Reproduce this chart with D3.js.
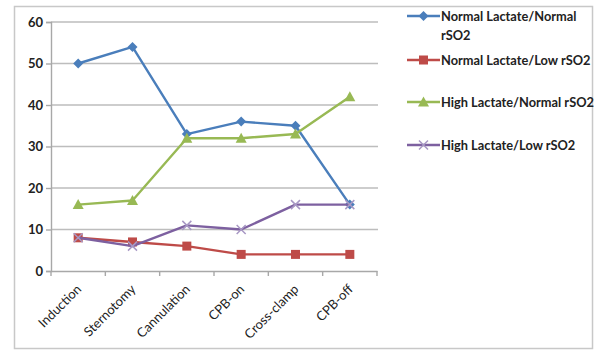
<!DOCTYPE html>
<html>
<head>
<meta charset="utf-8">
<script src="https://cdn.jsdelivr.net/npm/d3@7"></script>
<style>
  html, body { margin: 0; padding: 0; background: #fff; }
  svg { display: block; }
  text { font-family: Lato, "Open Sans", sans-serif; font-weight: bold; fill: #222; }
</style>
</head>
<body>
<svg id="chart" width="601" height="351"></svg>
<script>
const categories = ["Induction", "Sternotomy", "Cannulation", "CPB-on", "Cross-clamp", "CPB-off"];
const yTicks = [0, 10, 20, 30, 40, 50, 60];

const seriesNames = [
  "Normal Lactate/Normal rSO2",
  "Normal Lactate/Low rSO2",
  "High Lactate/Normal rSO2",
  "High Lactate/Low rSO2"
];
const normalLactateNormalRso2 = [50, 54, 33, 36, 35, 16];
const normalLactateLowRso2 = [8, 7, 6, 4, 4, 4];
const highLactateNormalRso2 = [16, 17, 32, 32, 33, 42];
const highLactateLowRso2 = [8, 6, 11, 10, 16, 16];

const seriesColors = ["#4a7ebb", "#be4b48", "#98b954", "#7d60a0"];
const seriesMarkers = ["diamond", "square", "triangle", "cross"];

const series = [normalLactateNormalRso2, normalLactateLowRso2, highLactateNormalRso2, highLactateLowRso2]
  .map((values, i) => ({ name: seriesNames[i], values, color: seriesColors[i], marker: seriesMarkers[i] }));

const svg = d3.select("#chart");

// outer chart frame
svg.append("rect")
  .attr("x", 14.5).attr("y", 6.5).attr("width", 578).attr("height", 342)
  .attr("fill", "#fff").attr("stroke", "#c8c8c8").attr("stroke-width", 1.5);

const plot = { left: 51, right: 377, top: 22, bottom: 271 };

const x = d3.scaleBand().domain(categories).range([plot.left, plot.right]);
const y = d3.scaleLinear().domain([0, 60]).range([plot.bottom, plot.top]);

// horizontal gridlines
svg.append("g")
  .selectAll("line")
  .data(yTicks.filter(t => t > 0))
  .join("line")
  .attr("x1", plot.left).attr("x2", plot.right + 1)
  .attr("y1", d => y(d)).attr("y2", d => y(d))
  .attr("stroke", "#bdbdbd").attr("stroke-width", 1.4);

// y axis
const yAxis = svg.append("g")
  .attr("transform", `translate(${plot.left},0)`)
  .call(d3.axisLeft(y).tickValues(yTicks).tickSize(5).tickPadding(3));
yAxis.select(".domain").attr("stroke", "#a8a8a8").attr("stroke-width", 1.4);
yAxis.selectAll(".tick line").attr("stroke", "#a8a8a8").attr("stroke-width", 1.4);
yAxis.selectAll("text").style("font-size", "13px").attr("fill", "#222");

// x axis with ticks on category boundaries
const xAxis = svg.append("g")
  .attr("transform", `translate(0,${plot.bottom})`)
  .call(d3.axisBottom(x).tickSize(0).tickPadding(0));
xAxis.select(".domain").attr("stroke", "#a8a8a8").attr("stroke-width", 1.4);
xAxis.selectAll(".tick text")
  .style("font-size", "13px")
  .style("font-weight", "normal")
  .attr("fill", "#222")
  .attr("text-anchor", "end")
  .attr("dy", 0)
  .attr("transform", "translate(4,19) rotate(-45)");

const boundaries = d3.range(categories.length + 1).map(i => plot.left + i * x.bandwidth());
svg.append("g")
  .selectAll("line")
  .data(boundaries)
  .join("line")
  .attr("x1", d => d).attr("x2", d => d)
  .attr("y1", plot.bottom).attr("y2", plot.bottom + 5)
  .attr("stroke", "#a8a8a8").attr("stroke-width", 1.4);

const cx = c => x(c) + x.bandwidth() / 2;

function drawMarker(g, type, color) {
  if (type === "diamond") {
    g.append("path").attr("d", "M0,-5L5,0L0,5L-5,0Z").attr("fill", color);
  } else if (type === "square") {
    g.append("rect").attr("x", -4.5).attr("y", -4.5).attr("width", 9).attr("height", 9).attr("fill", color);
  } else if (type === "triangle") {
    g.append("path").attr("d", "M0,-5.5L5.5,4.5L-5.5,4.5Z").attr("fill", color);
  } else {
    g.append("path").attr("d", "M-4.5,-4.5L4.5,4.5M-4.5,4.5L4.5,-4.5")
      .attr("stroke", "#a898c4").attr("stroke-width", 1.5).attr("fill", "none");
  }
}

const line = d3.line().x((d, i) => cx(categories[i])).y(d => y(d));

series.forEach(s => {
  const g = svg.append("g");
  g.append("path")
    .datum(s.values)
    .attr("d", line)
    .attr("fill", "none")
    .attr("stroke", s.color)
    .attr("stroke-width", 2.4)
    .attr("stroke-linejoin", "round");
  s.values.forEach((v, i) => {
    const m = g.append("g").attr("transform", `translate(${cx(categories[i])},${y(v)})`);
    drawMarker(m, s.marker, s.color);
  });
});

// legend
const legendRows = [16, 60, 102, 145];
const legend = svg.append("g");
series.forEach((s, i) => {
  const ly = legendRows[i];
  const g = legend.append("g").attr("transform", `translate(407,${ly})`);
  g.append("line").attr("x1", 0).attr("x2", 33).attr("y1", 0).attr("y2", 0)
    .attr("stroke", s.color).attr("stroke-width", 2.4);
  const m = g.append("g").attr("transform", "translate(16.5,0)");
  drawMarker(m, s.marker, s.color);
  const t = g.append("text").attr("x", 34).attr("y", 4.5).style("font-size", "12.8px");
  if (i === 0) {
    t.append("tspan").attr("x", 34).text("Normal Lactate/Normal");
    t.append("tspan").attr("x", 34).attr("dy", 19).text("rSO2");
  } else {
    t.text(s.name);
  }
});
</script>
</body>
</html>
